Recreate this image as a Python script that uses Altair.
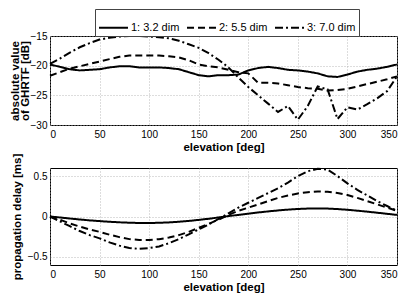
import altair as alt
import pandas as pd

elev = list(range(0, 351, 10))
names = ["1: 3.2 dim", "2: 5.5 dim", "3: 7.0 dim"]

# top panel: absolute value of GHRTF [dB]
top_1 = [-19.8, -20.2, -20.6, -20.8, -20.7, -20.6, -20.3, -20.1, -20.1, -20.3,
         -20.3, -20.3, -20.4, -20.6, -21.1, -21.6, -21.8, -21.6, -21.6, -21.5,
         -20.8, -20.4, -20.2, -20.4, -20.7, -20.8, -21.0, -21.3, -21.8, -21.9,
         -21.5, -21.0, -20.7, -20.5, -20.2, -19.8]
top_2 = [-21.7, -21.1, -20.5, -20.1, -19.7, -19.3, -18.9, -18.5, -18.3, -18.3,
         -18.3, -18.3, -18.4, -18.6, -19.1, -19.8, -20.1, -20.3, -20.7, -21.1,
         -21.3, -22.9, -22.9, -23.0, -23.3, -23.6, -23.8, -23.9, -24.2, -24.1,
         -23.9, -23.5, -23.1, -22.7, -22.3, -21.8]
top_3 = [-19.7, -18.8, -17.8, -16.9, -16.2, -15.6, -15.3, -15.1, -15.0, -15.0,
         -15.1, -15.2, -15.4, -15.8, -16.4, -17.0, -17.9, -19.0, -20.3, -22.0,
         -23.6, -25.0, -26.4, -27.8, -26.8, -29.1, -26.8, -23.5, -24.0, -29.0,
         -27.0, -27.4, -26.5, -25.5, -24.3, -21.8]

# bottom panel: propagation delay [ms]
bot_1 = [0.0, -0.012, -0.025, -0.037, -0.048, -0.057, -0.065, -0.072, -0.077, -0.08,
         -0.08, -0.078, -0.073, -0.065, -0.055, -0.042, -0.028, -0.012, 0.005, 0.02,
         0.035, 0.05, 0.063, 0.075, 0.085, 0.093, 0.098, 0.1, 0.098, 0.092,
         0.083, 0.072, 0.06, 0.047, 0.033, 0.02]
bot_2 = [0.0, -0.04, -0.085, -0.125, -0.16, -0.19, -0.225, -0.255, -0.28, -0.29,
         -0.29, -0.28, -0.26, -0.23, -0.19, -0.14, -0.09, -0.04, 0.02, 0.07,
         0.11, 0.15, 0.19, 0.23, 0.26, 0.285, 0.3, 0.31, 0.305, 0.29,
         0.265, 0.23, 0.19, 0.15, 0.11, 0.07]
bot_3 = [0.0, -0.06, -0.12, -0.18, -0.23, -0.27, -0.32, -0.36, -0.39, -0.40,
         -0.39, -0.37, -0.33, -0.28, -0.22, -0.16, -0.1, -0.03, 0.04, 0.11,
         0.17, 0.23, 0.29, 0.35, 0.42, 0.5, 0.56, 0.59, 0.58, 0.5,
         0.41, 0.33, 0.26, 0.19, 0.13, 0.07]

x_ticks = [0, 50, 100, 150, 200, 250, 300, 350]


def long(series):
    rows = []
    for name, vals in zip(names, series):
        for e, v in zip(elev, vals):
            rows.append({"elev": e, "series": name, "val": v})
    return pd.DataFrame(rows)


df_top = long([top_1, top_2, top_3])
df_bot = long([bot_1, bot_2, bot_3])

dash_scale = alt.Scale(domain=names, range=[[1, 0], [7, 4], [8, 3, 2, 3]])
width_scale = alt.Scale(domain=names, range=[2, 2, 1.5])

FONT = "Liberation Sans"


def xaxis():
    return alt.X("elev:Q", scale=alt.Scale(domain=[0, 350], nice=False),
                 axis=alt.Axis(values=x_ticks, title="elevation [deg]",
                               labelPadding=4, titlePadding=2))


top = alt.Chart(df_top).mark_line(color="black").encode(
    x=xaxis(),
    y=alt.Y("val:Q", scale=alt.Scale(domain=[-30, -15], nice=False),
            axis=alt.Axis(values=[-30, -25, -20, -15],
                          title=["absolute value", "of GHRTF [dB]"],
                          titlePadding=0, titleLineHeight=10)),
    strokeDash=alt.StrokeDash("series:N", scale=dash_scale,
                              legend=alt.Legend(
                                  title=None, orient="none", legendX=45, legendY=-27,
                                  direction="horizontal", symbolType="stroke",
                                  symbolSize=840, symbolStrokeWidth=2,
                                  symbolStrokeColor="black",
                                  labelFont=FONT, labelFontSize=11, labelColor="black",
                                  labelOffset=2, columnPadding=3,
                                  strokeColor="#444", fillColor="white",
                                  padding=3)),
    strokeWidth=alt.StrokeWidth("series:N", scale=width_scale, legend=None),
).properties(width=347, height=89)

bot = alt.Chart(df_bot).mark_line(color="black").encode(
    x=xaxis(),
    y=alt.Y("val:Q", scale=alt.Scale(domain=[-0.6, 0.6], nice=False),
            axis=alt.Axis(values=[-0.5, 0, 0.5], format=".1~f",
                          title="propagation delay [ms]", titlePadding=5)),
    strokeDash=alt.StrokeDash("series:N", scale=dash_scale, legend=None),
    strokeWidth=alt.StrokeWidth("series:N", scale=width_scale, legend=None),
).properties(width=347, height=97)

chart = alt.vconcat(top, bot, spacing=43, bounds="flush").properties(
    padding={"left": 0, "top": 0, "right": 0, "bottom": 0}
).configure_view(
    stroke="black", strokeWidth=1
).configure_axis(
    domain=False, ticks=False, labelPadding=3,
    labelFont=FONT, labelFontSize=10, labelColor="black",
    titleFont=FONT, titleFontSize=11.5, titleFontWeight="bold", titleColor="black",
    grid=True, gridColor="#aaaaaa", gridDash=[1, 2], gridWidth=0.8,
)

chart.save("out.html", embed_options={"renderer": "svg", "actions": False})
